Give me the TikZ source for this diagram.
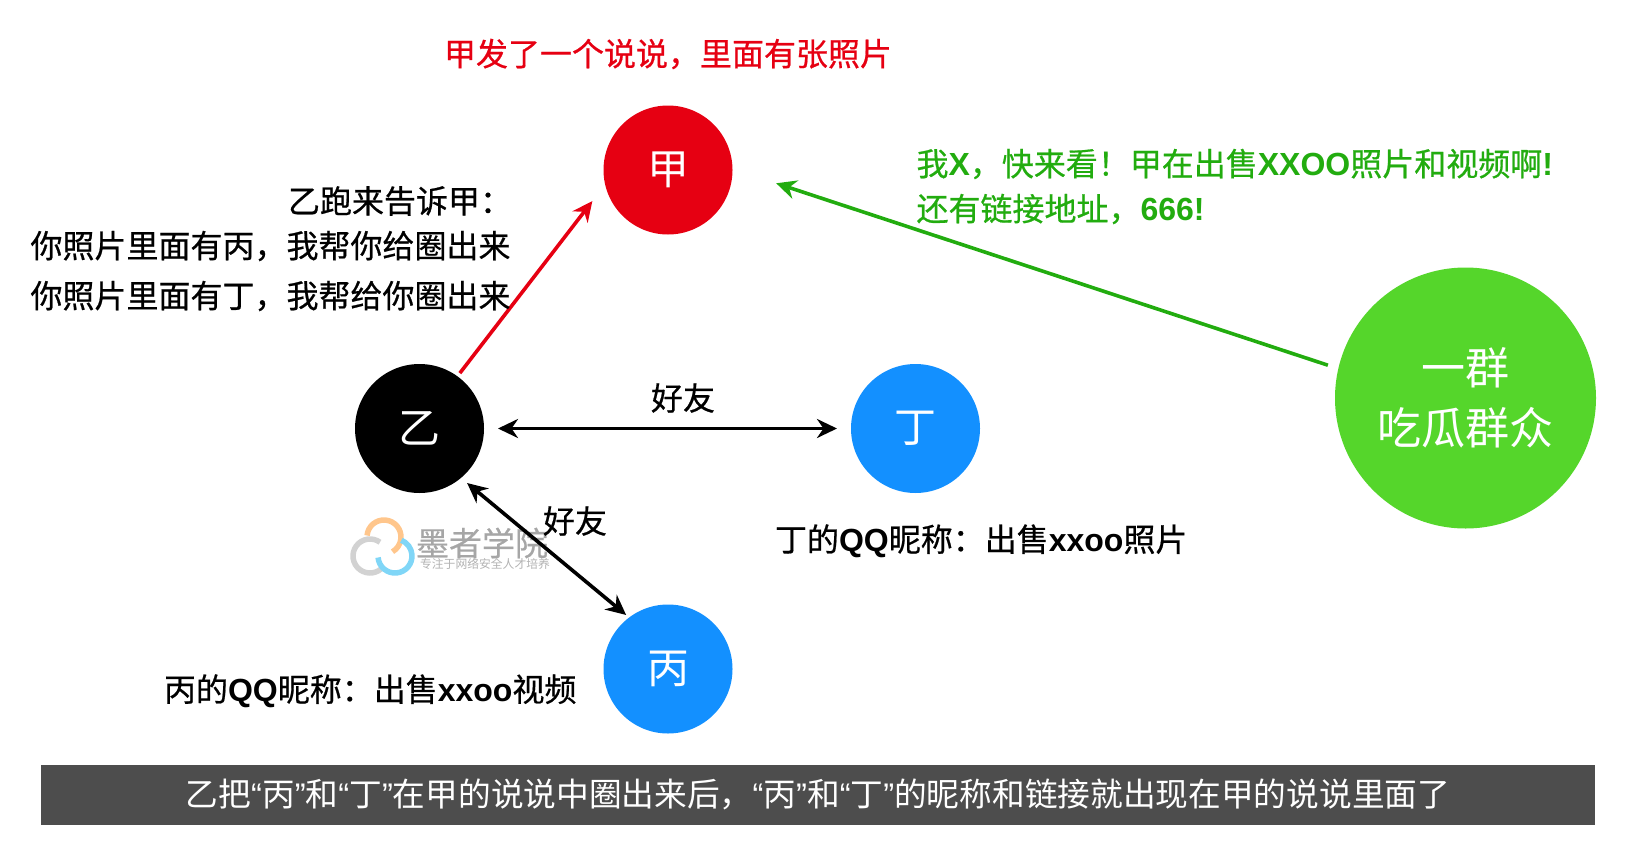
\documentclass[tikz,border=0pt]{standalone}
\usepackage{fontspec}
\setmainfont{Noto Sans CJK SC}[FakeBold=0.6]
\newfontfamily\plainfont{Noto Sans CJK SC}
\newfontfamily\latinfont{Liberation Sans}
\usetikzlibrary{arrows.meta}
\definecolor{jiared}{HTML}{E60012}
\definecolor{friendblue}{HTML}{1390FF}
\definecolor{crowdgreen}{HTML}{55D62B}
\definecolor{talkgreen}{HTML}{22AC0F}
\definecolor{bandgray}{HTML}{4D4D4D}
\newcommand{\qleft}{{\latinfont “}}
\newcommand{\qright}{{\latinfont ”}}
\newcommand{\lat}[1]{{\latinfont\bfseries #1}}
\tikzset{
  person/.style={circle, minimum size=129pt, inner sep=0pt, outer sep=0pt, text=white, font=\plainfont\fontsize{42}{42}\selectfont},
  remark/.style={inner sep=0pt, outer sep=0pt, font=\fontsize{32}{32}\selectfont},
  link/.style={line width=3.6pt, {Stealth[length=20pt,width=19pt]}-{Stealth[length=20pt,width=19pt]}},
  tell/.style={line width=3.6pt, -{Stealth[length=20pt,width=19pt]}}
}
\begin{document}
\begin{tikzpicture}[x=1pt,y=-1pt]
        \useasboundingbox (0,0) rectangle (1626,846);
        % watermark
        \draw[line width=5.5pt, orange!45] (384,537) ++(-175:17) arc (-175:60:17);
        \draw[line width=5.5pt, gray!35] (370,556) ++(-54:17) arc (-54:-323:17);
        \draw[line width=5.5pt, cyan!50] (395,556) ++(-185:17) arc (-185:-428:17);
        \node[text=gray!70, inner sep=0pt, font=\fontsize{33}{33}\selectfont] (markname) at (482,543) {墨者学院};
        \node[text=gray!60, inner sep=0pt, font=\plainfont\fontsize{11.8}{12}\selectfont] (markline) at (485,564) {专注于网络安全人才培养};
        % the people
        \node[person, fill=jiared] (jia) at (668,170) {甲};
        \node[person, fill=black] (yi) at (419.5,428.5) {乙};
        \node[person, fill=friendblue] (ding) at (915.5,428.5) {丁};
        \node[person, fill=friendblue] (bing) at (668,669) {丙};
        \node[circle, minimum size=261pt, inner sep=0pt, outer sep=0pt, fill=crowdgreen, text=white, align=center, font=\plainfont\fontsize{44}{60}\selectfont] (crowd) at (1465.5,398) {一群\\吃瓜群众};
        % the arrows
        \draw[tell, jiared, shorten >=21pt, shorten <=4pt] (yi.54) -- (jia.193);
        \draw[link, shorten >=14pt, shorten <=14pt] (yi) -- (ding);
        \draw[link, shorten >=4pt, shorten <=8pt] (yi.-50) -- (bing.127);
        \draw[tell, talkgreen, shorten >=46pt, shorten <=11pt] (crowd.167) -- (jia.1);
        % the texts
        \node[remark, text=jiared] (post) at (668,54) {甲发了一个说说，里面有张照片};
        \node[remark, anchor=west] (yisays) at (288,201) {乙跑来告诉甲：};
        \node[remark, anchor=west] (yibing) at (30.5,246) {你照片里面有丙，我帮你给圈出来};
        \node[remark, anchor=west] (yiding) at (30.5,296) {你照片里面有丁，我帮给你圈出来};
        \node[remark] (friendtop) at (683,398) {好友};
        \node[remark] (friendlow) at (575,521) {好友};
        \node[remark, anchor=west] (dingnick) at (775,541) {丁的\lat{QQ}昵称：出售\lat{xxoo}照片};
        \node[remark, anchor=west] (bingnick) at (164,691) {丙的\lat{QQ}昵称：出售\lat{xxoo}视频};
        \node[remark, anchor=west, text=talkgreen] (shout) at (916.5,164) {我\lat{X}，快来看！甲在出售\lat{XXOO}照片和视频啊\lat{!}};
        \node[remark, anchor=west, text=talkgreen] (shoutlink) at (916.5,209) {还有链接地址，\lat{666!}};
        % the caption
        \node[minimum width=1554pt, minimum height=60pt, inner sep=0pt, fill=bandgray, text=white, font=\plainfont\fontsize{32.7}{33}\selectfont] (caption) at (818,794.5) {乙把\qleft 丙\qright 和\qleft 丁\qright 在甲的说说中圈出来后，\qleft 丙\qright 和\qleft 丁\qright 的昵称和链接就出现在甲的说说里面了};
    \end{tikzpicture}
\end{document}
